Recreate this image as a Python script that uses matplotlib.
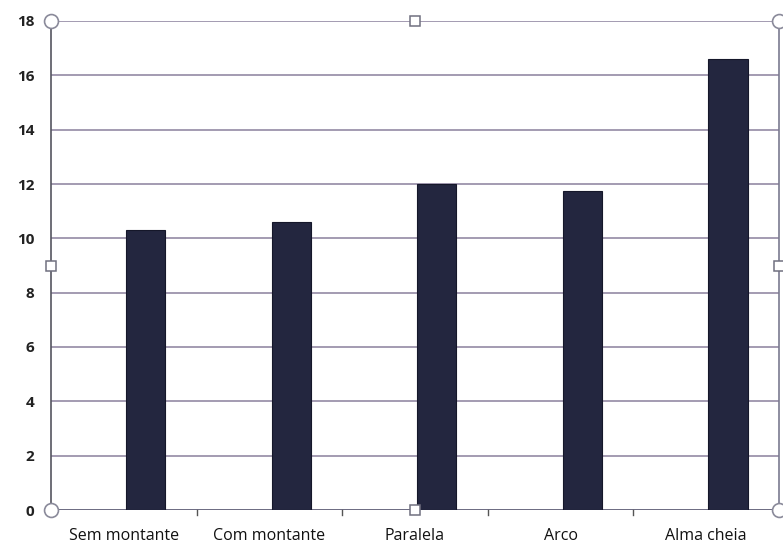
import matplotlib
matplotlib.use("Agg")
import matplotlib.pyplot as plt

categories = ["Sem montante", "Com montante", "Paralela", "Arco", "Alma cheia"]
values = [10.3, 10.6, 12.0, 11.75, 16.6]
yticks = [0, 2, 4, 6, 8, 10, 12, 14, 16, 18]

fig = plt.figure(figsize=(7.83, 5.47), dpi=100)
ax = fig.add_axes([51 / 783, 37 / 547, 728 / 783, 489 / 547])

x = list(range(len(categories)))
bar_shift = 0.15
ax.bar([i + bar_shift for i in x], values, width=0.27, color="#23263f",
       edgecolor="#15172a", linewidth=0.8, zorder=3)

ax.set_xlim(-0.5, len(categories) - 0.5)
ax.set_ylim(0, 18)
ax.set_yticks(yticks)
ax.set_yticklabels([str(t) for t in yticks], fontsize=11, fontweight="bold",
                   family="Open Sans", color="#222222")
ax.set_xticks(x)
ax.set_xticklabels(categories, fontsize=11.5, family="Open Sans", color="#111111")
ax.tick_params(axis="x", length=0, pad=13)
ax.tick_params(axis="y", length=0, pad=12)

# category boundary ticks below the baseline
for b in [0.5, 1.5, 2.5, 3.5]:
    ax.plot([b, b], [0, -0.18], color="#555555", lw=1, clip_on=False, zorder=4)

ax.yaxis.grid(True, color="#8a809c", lw=1.1, zorder=1)
for s in ["top", "bottom"]:
    ax.spines[s].set_visible(False)
ax.spines["left"].set_color("#555560")
ax.spines["left"].set_linewidth(1.2)
ax.spines["right"].set_color("#7a7a90")
ax.spines["right"].set_linewidth(1.2)
ax.axhline(0, color="#6a6a80", lw=1.3, zorder=2)

# selection handles around the plot frame
circ = [(0, 0), (1, 0), (0, 1), (1, 1)]
sq = [(0.5, 0), (0.5, 1), (0, 0.5), (1, 0.5)]
for px, py in circ:
    ax.plot(px, py, marker="o", ms=10, mfc="white", mec="#8a8a9a", mew=1.2,
            transform=ax.transAxes, clip_on=False, zorder=6)
for px, py in sq:
    ax.plot(px, py, marker="s", ms=7, mfc="white", mec="#707080", mew=1.1,
            transform=ax.transAxes, clip_on=False, zorder=6)

fig.savefig("out.png", dpi=100, facecolor="white")
